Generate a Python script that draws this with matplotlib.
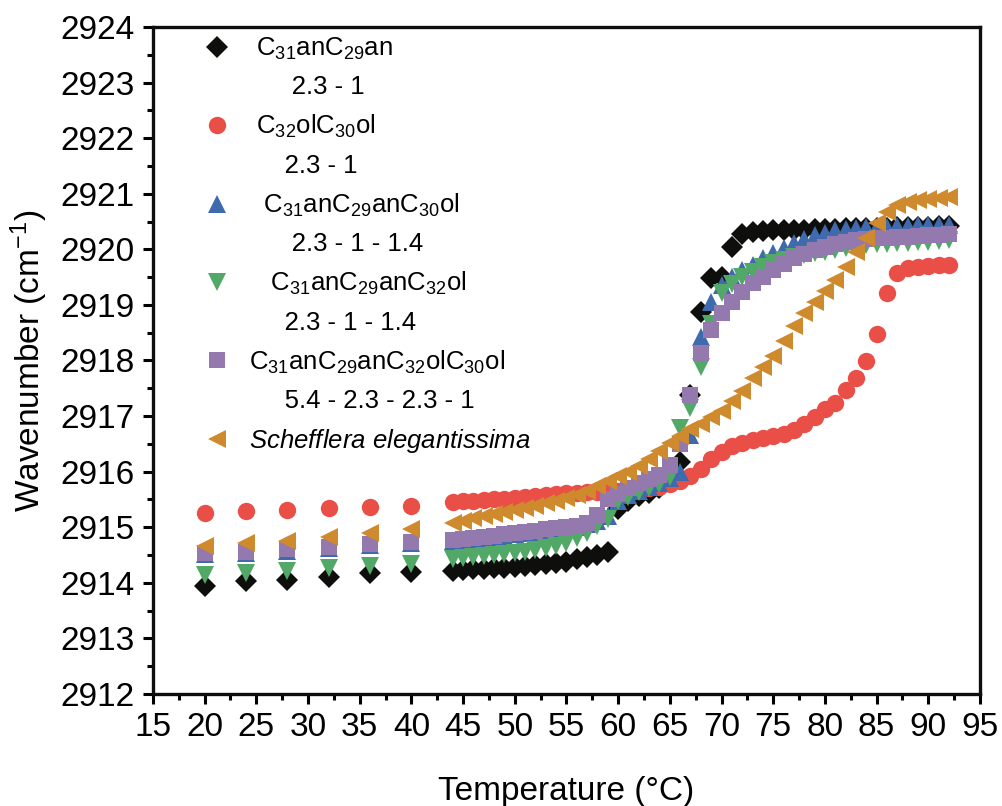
import matplotlib
matplotlib.use("Agg")
import matplotlib.pyplot as plt
from matplotlib.lines import Line2D
from matplotlib.ticker import MultipleLocator

plt.rcParams['font.family'] = ['Liberation Sans', 'DejaVu Sans']
plt.rcParams['mathtext.fontset'] = 'custom'
plt.rcParams['mathtext.rm'] = 'Liberation Sans'
plt.rcParams['mathtext.it'] = 'Liberation Sans:italic'
plt.rcParams['mathtext.default'] = 'regular'

# ---------------- data ----------------
temperature = [20, 24, 28, 32, 36, 40,
               44, 45, 46, 47, 48, 49, 50, 51, 52, 53,
               54, 55, 56, 57, 58, 59, 60, 61, 62, 63,
               64, 65, 66, 67, 68, 69, 70, 71, 72, 73,
               74, 75, 76, 77, 78, 79, 80, 81, 82, 83,
               84, 85, 86, 87, 88, 89, 90, 91, 92]

c31an_c29an = [2913.95, 2914.03, 2914.05, 2914.11, 2914.17, 2914.19,
               2914.22, 2914.23, 2914.24, 2914.25, 2914.26, 2914.27, 2914.28, 2914.30, 2914.32, 2914.34,
               2914.36, 2914.38, 2914.42, 2914.46, 2914.50, 2914.56, 2915.32, 2915.48, 2915.56, 2915.62,
               2915.70, 2915.85, 2916.17, 2917.38, 2918.88, 2919.48, 2919.51, 2920.04, 2920.28, 2920.32,
               2920.33, 2920.34, 2920.34, 2920.35, 2920.35, 2920.36, 2920.36, 2920.37, 2920.38, 2920.38,
               2920.38, 2920.39, 2920.39, 2920.40, 2920.40, 2920.41, 2920.41, 2920.42, 2920.42]

c32ol_c30ol = [2915.25, 2915.29, 2915.31, 2915.34, 2915.37, 2915.39,
               2915.46, 2915.47, 2915.48, 2915.49, 2915.50, 2915.51, 2915.52, 2915.54, 2915.56, 2915.58,
               2915.60, 2915.61, 2915.62, 2915.63, 2915.64, 2915.65, 2915.66, 2915.67, 2915.68, 2915.70,
               2915.73, 2915.77, 2915.83, 2915.92, 2916.05, 2916.22, 2916.36, 2916.46, 2916.52, 2916.57,
               2916.61, 2916.64, 2916.68, 2916.75, 2916.85, 2916.98, 2917.12, 2917.24, 2917.46, 2917.69,
               2917.99, 2918.47, 2919.21, 2919.58, 2919.67, 2919.68, 2919.70, 2919.71, 2919.72]

c31an_c29an_c30ol = [2914.52, 2914.54, 2914.58, 2914.63, 2914.68, 2914.72,
                     2914.75, 2914.77, 2914.79, 2914.81, 2914.83, 2914.85, 2914.87, 2914.89, 2914.91, 2914.94,
                     2914.96, 2914.98, 2915.01, 2915.05, 2915.12, 2915.20, 2915.48, 2915.58, 2915.66, 2915.73,
                     2915.79, 2915.88, 2916.00, 2916.66, 2918.42, 2919.06, 2919.36, 2919.51, 2919.63, 2919.72,
                     2919.84, 2919.93, 2920.02, 2920.11, 2920.19, 2920.25, 2920.30, 2920.34, 2920.37, 2920.39,
                     2920.40, 2920.41, 2920.41, 2920.42, 2920.42, 2920.43, 2920.43, 2920.43, 2920.44]

c31an_c29an_c32ol = [2914.14, 2914.18, 2914.22, 2914.26, 2914.30, 2914.34,
                     2914.42, 2914.44, 2914.46, 2914.48, 2914.50, 2914.52, 2914.54, 2914.56, 2914.59, 2914.62,
                     2914.66, 2914.72, 2914.80, 2914.90, 2915.03, 2915.14, 2915.48, 2915.55, 2915.63, 2915.70,
                     2915.77, 2915.90, 2916.78, 2917.14, 2917.89, 2918.65, 2919.22, 2919.38, 2919.50, 2919.60,
                     2919.68, 2919.75, 2919.81, 2919.86, 2919.90, 2919.93, 2919.96, 2919.99, 2920.02, 2920.05,
                     2920.07, 2920.09, 2920.10, 2920.11, 2920.12, 2920.13, 2920.14, 2920.15, 2920.16]

c31an_c29an_c32ol_c30ol = [2914.54, 2914.56, 2914.60, 2914.65, 2914.70, 2914.74,
                           2914.77, 2914.79, 2914.81, 2914.83, 2914.85, 2914.87, 2914.89, 2914.91, 2914.93, 2914.96,
                           2914.98, 2915.00, 2915.03, 2915.08, 2915.22, 2915.50, 2915.60, 2915.70, 2915.79, 2915.86,
                           2915.94, 2916.12, 2916.50, 2917.38, 2918.13, 2918.55, 2918.85, 2919.06, 2919.24, 2919.39,
                           2919.51, 2919.63, 2919.74, 2919.84, 2919.92, 2919.99, 2920.05, 2920.10, 2920.14, 2920.17,
                           2920.19, 2920.20, 2920.21, 2920.22, 2920.23, 2920.24, 2920.25, 2920.26, 2920.27]

schefflera = [2914.67, 2914.72, 2914.76, 2914.82, 2914.89, 2914.96,
              2915.08, 2915.12, 2915.16, 2915.20, 2915.24, 2915.28, 2915.31, 2915.35, 2915.39, 2915.43,
              2915.48, 2915.52, 2915.58, 2915.66, 2915.74, 2915.83, 2915.92, 2916.00, 2916.10, 2916.22,
              2916.38, 2916.52, 2916.65, 2916.77, 2916.86, 2916.98, 2917.10, 2917.27, 2917.45, 2917.68,
              2917.88, 2918.08, 2918.35, 2918.62, 2918.86, 2919.05, 2919.25, 2919.45, 2919.68, 2919.96,
              2920.20, 2920.47, 2920.67, 2920.79, 2920.85, 2920.88, 2920.90, 2920.92, 2920.94]

x_ticks = [15, 20, 25, 30, 35, 40, 45, 50, 55, 60, 65, 70, 75, 80, 85, 90, 95]
y_ticks = [2912, 2913, 2914, 2915, 2916, 2917, 2918, 2919, 2920, 2921, 2922, 2923, 2924]

names = ["C$_{31}$anC$_{29}$an", "C$_{32}$olC$_{30}$ol", "C$_{31}$anC$_{29}$anC$_{30}$ol",
         "C$_{31}$anC$_{29}$anC$_{32}$ol", "C$_{31}$anC$_{29}$anC$_{32}$olC$_{30}$ol",
         "$\\it{Schefflera\\ elegantissima}$"]
ratios = ["2.3 - 1", "2.3 - 1", "2.3 - 1 - 1.4", "2.3 - 1 - 1.4", "5.4 - 2.3 - 2.3 - 1", None]

# ---------------- styles ----------------
colors = ['#0e0e0c', '#ea4f47', '#3f6aad', '#52a866', '#9479ae', '#cf8a2e']
markers = ['D', 'o', '^', 'v', 's', '<']
msizes = [11, 12.5, 12.5, 12.5, 11.5, 12.5]
series = [c31an_c29an, c32ol_c30ol, c31an_c29an_c30ol, c31an_c29an_c32ol,
          c31an_c29an_c32ol_c30ol, schefflera]
draw_order = [3, 2, 0, 1, 4, 5]

fig = plt.figure(figsize=(10.03, 8.06), dpi=100)
ax = fig.add_axes([0.1525, 0.139, 0.8245, 0.8275])

handles = [None] * 6
for i in draw_order:
    h, = ax.plot(temperature, series[i], linestyle='none', marker=markers[i],
                 markersize=msizes[i], color=colors[i], markeredgewidth=0, zorder=3 + i)
    handles[i] = h

ax.set_xlim(15, 95)
ax.set_ylim(2912, 2924)
ax.set_xticks(x_ticks)
ax.set_yticks(y_ticks)
ax.xaxis.set_minor_locator(MultipleLocator(2.5))
ax.yaxis.set_minor_locator(MultipleLocator(0.5))
ax.tick_params(which='major', direction='out', length=7, width=2.2, labelsize=24, pad=6)
ax.tick_params(which='minor', direction='out', length=4, width=2.2)
ax.tick_params(top=False, right=False, which='both')
for s in ax.spines.values():
    s.set_linewidth(2.4)
    s.set_color('#0e0e0c')

ax.set_xlabel("Temperature (°C)", fontsize=24, labelpad=24)
ax.set_ylabel("Wavenumber (cm$^{-1}$)", fontsize=24, labelpad=8)

# legend: each name row followed by its ratio row
leg_handles = []
leg_labels = []
lead_name = [1, 1, 2, 3, 0, 0]
lead_ratio = [6, 5, 6, 5, 5]
for i in range(6):
    leg_handles.append(handles[i])
    leg_labels.append(" " * lead_name[i] + names[i])
    if ratios[i] is not None:
        leg_handles.append(Line2D([], [], linestyle='none', marker=None))
        leg_labels.append(" " * lead_ratio[i] + ratios[i])

ax.legend(leg_handles, leg_labels, loc='upper left', bbox_to_anchor=(0.059, 0.987),
          frameon=False, fontsize=18.5, handlelength=1.2, handletextpad=0.65,
          labelspacing=0.53, borderpad=0, borderaxespad=0, numpoints=1)

fig.savefig("out.png", dpi=100)
